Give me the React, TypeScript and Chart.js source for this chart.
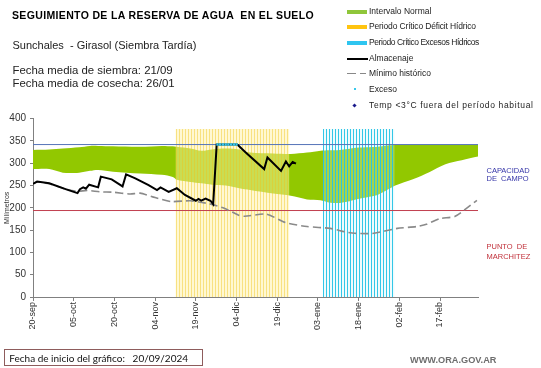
import React, { useEffect, useRef } from 'react';
import { Chart, registerables } from 'chart.js';
Chart.register(...registerables);

// ---- data ----
const tickDays = [0, 15, 30, 45, 60, 75, 90, 105, 120, 135, 150];
const tickLabels = ['20-sep', '05-oct', '20-oct', '04-nov', '19-nov', '04-dic', '19-dic', '03-ene', '18-ene', '02-feb', '17-feb'];
const axisEnd = 164;

const bandDays = [0, 6, 11, 17, 21, 24, 29.5, 39.5, 47.5, 51.5, 53, 58, 62, 66, 71, 76, 80, 88.5, 95, 101, 106, 109, 113, 116, 119, 124, 127, 130.5, 133.5, 140, 146, 152, 158, 164];
const bandUpper = [330, 331, 333, 336, 339, 339, 338, 337, 339, 338, 337, 333, 328, 331, 333, 331, 324, 322, 321, 324, 328, 329, 330, 332, 335, 336, 337, 340, 341, 341, 341, 341, 341, 341];
const bandLower = [287, 287, 279, 279, 283, 285, 281, 277, 274, 269, 263, 258, 255, 252, 250, 244, 240, 232, 227, 219, 217, 212, 211, 214, 219, 225, 229, 240, 250, 264, 280, 298, 307, 315];

const storageDays = [0, 1.5, 6, 12, 16.4, 17.3, 18.5, 19.5, 20.7, 24, 25, 29, 33, 34.3, 37.7, 42.6, 45.7, 47, 50, 53, 56, 60, 61, 62, 63.6, 65.4, 66.4, 67.7, 75.3, 78.4, 85.2, 86.4, 91.4, 93.2, 94.4, 95.7, 96.9];
const storageValues = [254, 259, 255, 242, 233, 242, 246, 243, 252, 246, 270, 264, 248, 275, 266, 251, 240, 246, 236, 244, 229, 216, 220, 216, 221, 216, 208, 342, 342, 324, 287, 313, 283, 304, 293, 303, 299];

const minDays = [0, 1.5, 6, 12, 16.4, 20, 24.7, 29.6, 35.8, 39.5, 45, 51, 58, 65, 70.5, 76, 78, 86, 93, 101, 109.5, 115, 118.5, 125, 134.3, 141.4, 145, 150, 155.6, 163.6];
const minValues = [254, 258, 254, 242, 237, 239, 236, 235, 231, 233, 223, 214, 216, 209, 199, 183, 181, 186, 167, 158, 154, 146, 143, 142.5, 154, 158, 163, 176, 181, 217];

const excesoDays = [68, 69, 70, 71, 72, 73, 74, 75];
const fieldCapacity = 342;
const wiltingPoint = 194;
const deficitPeriod = [52.5, 94.5];
const excessPeriod = [106.8, 133.3];
const periodTop = 377;

const GREEN = '#92C800';
const FONT = '"Liberation Sans", Arial, sans-serif';

function stripes(ctx: CanvasRenderingContext2D, gap: string, line: string) {
  const c = document.createElement('canvas');
  c.width = 3;
  c.height = 4;
  const g = c.getContext('2d')!;
  g.fillStyle = gap;
  g.fillRect(0, 0, 2, 4);
  g.fillStyle = line;
  g.fillRect(2, 0, 1, 4);
  return ctx.createPattern(c, 'repeat')!;
}

const pts = (xs: number[], ys: number[]) => xs.map((x, i) => ({ x, y: ys[i] }));

export default function App() {
  const ref = useRef<HTMLCanvasElement>(null);
  useEffect(() => {
    const canvas = ref.current!;
    const ctx = canvas.getContext('2d')!;
    const yellowPat = stripes(ctx, 'rgba(255,242,165,0.5)', 'rgba(245,214,80,0.72)');
    const cyanPat = stripes(ctx, 'rgba(205,242,250,0.3)', 'rgba(40,196,230,0.95)');
    const chart = new Chart(ctx, {
      type: 'line',
      data: {
        datasets: [
          {
            label: 'Exceso', type: 'scatter' as any, data: excesoDays.map((d) => ({ x: d, y: fieldCapacity })),
            pointStyle: 'rect', pointRadius: 1.7, backgroundColor: '#36C8EC', borderWidth: 0, order: 0,
          },
          {
            label: 'Almacenaje', data: pts(storageDays, storageValues), borderColor: '#000', borderWidth: 2,
            pointRadius: 0, fill: false, order: 1, tension: 0,
          },
          {
            label: 'Mínimo histórico', data: pts(minDays, minValues), borderColor: '#8a8a8a', borderWidth: 1.6,
            borderDash: [8, 4], pointRadius: 0, fill: false, order: 2, tension: 0.2,
          },
          {
            label: 'CC', data: [{ x: 0, y: fieldCapacity }, { x: axisEnd, y: fieldCapacity }], borderColor: '#5574B8',
            borderWidth: 1, pointRadius: 0, fill: false, order: 3,
          },
          {
            label: 'PMP', data: [{ x: 0, y: wiltingPoint }, { x: axisEnd, y: wiltingPoint }], borderColor: '#C24050',
            borderWidth: 1, pointRadius: 0, fill: false, order: 3,
          },
          {
            label: 'Periodo Crítico Déficit Hídrico', data: [{ x: deficitPeriod[0], y: periodTop }, { x: deficitPeriod[1], y: periodTop }],
            borderWidth: 0, pointRadius: 0, fill: 'origin', backgroundColor: yellowPat, order: 4,
          },
          {
            label: 'Periodo Crítico Excesos Hídricos', data: [{ x: excessPeriod[0], y: periodTop }, { x: excessPeriod[1], y: periodTop }],
            borderWidth: 0, pointRadius: 0, fill: 'origin', backgroundColor: cyanPat, order: 4,
          },
          {
            label: 'lower', data: pts(bandDays, bandLower), borderWidth: 0, pointRadius: 0, fill: false, order: 6,
            borderColor: 'rgba(0,0,0,0)', tension: 0.3,
          },
          {
            label: 'Intervalo Normal', data: pts(bandDays, bandUpper), borderWidth: 0, pointRadius: 0, fill: '-1', order: 5,
            backgroundColor: GREEN, borderColor: 'rgba(0,0,0,0)', tension: 0.3,
          },
        ] as any,
      },
      options: {
        responsive: false,
        animation: false,
        events: [],
        layout: { padding: { top: 118.7, right: 63, bottom: 0, left: 0 } },
        plugins: { legend: { display: false }, tooltip: { enabled: false } },
        scales: {
          x: {
            type: 'linear', min: 0, max: axisEnd,
            afterBuildTicks: (s: any) => { s.ticks = tickDays.map((v) => ({ value: v })); },
            afterFit: (s: any) => { s.height = 71; },
            ticks: {
              autoSkip: false, minRotation: 90, maxRotation: 90, padding: 1,
              font: { family: FONT, size: 9 }, color: '#333',
              callback: (v: any) => tickLabels[tickDays.indexOf(Number(v))] ?? '',
            },
            grid: { display: true, drawOnChartArea: false, drawTicks: true, tickLength: 4, color: '#808080' },
            border: { color: '#808080' },
          },
          y: {
            min: 0, max: 400,
            afterFit: (s: any) => { s.width = 33; },
            ticks: { stepSize: 50, padding: 4, font: { family: FONT, size: 10 }, color: '#333' },
            grid: { display: true, drawOnChartArea: false, drawTicks: true, tickLength: 3, color: '#808080' },
            border: { color: '#808080' },
            title: { display: true, text: 'Milímetros', font: { family: FONT, size: 7 }, color: '#333', padding: { top: 3, bottom: 0 } },
          },
        },
      } as any,
    });
    return () => chart.destroy();
  }, []);

  const txt = (extra: React.CSSProperties): React.CSSProperties => ({
    position: 'absolute', fontFamily: FONT, whiteSpace: 'pre', color: '#111', lineHeight: 1, ...extra,
  });

  const legendRows: { label: string; y: number; kind: string; ls: number }[] = [
    { label: 'Intervalo Normal', y: 11.7, kind: 'green', ls: 0 },
    { label: 'Periodo Crítico Déficit Hídrico', y: 26.7, kind: 'yellow', ls: -0.15 },
    { label: 'Periodo Crítico Excesos Hídricos', y: 42.7, kind: 'cyan', ls: -0.45 },
    { label: 'Almacenaje', y: 59, kind: 'black', ls: 0 },
    { label: 'Mínimo histórico', y: 73.3, kind: 'dash', ls: 0 },
    { label: 'Exceso', y: 89.3, kind: 'dot', ls: 0 },
    { label: 'Temp <3°C fuera del período habitual', y: 105.3, kind: 'diamond', ls: 0.65 },
  ];

  const swatch = (kind: string, y: number) => {
    const base: React.CSSProperties = { position: 'absolute' };
    switch (kind) {
      case 'green': return <div style={{ ...base, left: 347, top: y - 1.7, width: 20, height: 3.5, background: '#8FC63A' }} />;
      case 'yellow': return <div style={{ ...base, left: 347, top: y - 2, width: 20, height: 4, background: '#FFC410' }} />;
      case 'cyan': return <div style={{ ...base, left: 347, top: y - 2, width: 20, height: 4, background: '#2EC5F0' }} />;
      case 'black': return <div style={{ ...base, left: 347, top: y - 0.8, width: 21, height: 1.6, background: '#000' }} />;
      case 'dash': return (
        <>
          <div style={{ ...base, left: 347, top: y - 0.7, width: 9, height: 1.5, background: '#888' }} />
          <div style={{ ...base, left: 360, top: y - 0.7, width: 6, height: 1.5, background: '#888' }} />
        </>
      );
      case 'dot': return <div style={{ ...base, left: 354, top: y - 1, width: 2.2, height: 2.2, background: '#36C8EC' }} />;
      case 'diamond': return <div style={{ ...base, left: 353.2, top: y - 1.6, width: 3, height: 3, background: '#1A1A8C', transform: 'rotate(45deg)' }} />;
    }
    return null;
  };

  return (
    <div style={{ position: 'absolute', left: 0, top: 0, width: 541, height: 368, background: '#fff', overflow: 'hidden' }}>
      <canvas ref={ref} width={541} height={368} style={{ position: 'absolute', left: 0, top: 0, width: 541, height: 368 }} />
      <div style={txt({ left: 12, top: 10.2, fontSize: 10.5, letterSpacing: '0.35px', fontWeight: 'bold', color: '#000' })}>SEGUIMIENTO DE LA RESERVA DE AGUA  EN EL SUELO</div>
      <div style={txt({ left: 12.5, top: 40.3, fontSize: 11, color: '#222' })}>Sunchales  - Girasol (Siembra Tardía)</div>
      <div style={txt({ left: 12.5, top: 65.2, fontSize: 11.4, color: '#222' })}>Fecha media de siembra: 21/09</div>
      <div style={txt({ left: 12.5, top: 77.8, fontSize: 11.4, color: '#222' })}>Fecha media de cosecha: 26/01</div>

      {legendRows.map((r) => (
        <React.Fragment key={r.label}>
          {swatch(r.kind, r.y)}
          <div style={txt({ left: 369, top: r.y - 4.6, fontSize: 8.5, letterSpacing: `${r.ls}px`, color: '#222', lineHeight: '9px' })}>{r.label}</div>
        </React.Fragment>
      ))}

      <div style={txt({ left: 486.5, top: 166.8, fontSize: 7.5, color: '#3535A8', lineHeight: '8.6px' })}>{'CAPACIDAD\nDE  CAMPO'}</div>
      <div style={txt({ left: 486.5, top: 242.4, fontSize: 7.5, color: '#C0303A', lineHeight: '9.3px' })}>{'PUNTO  DE\nMARCHITEZ'}</div>

      <div style={{ position: 'absolute', left: 3.5, top: 348.5, width: 199, height: 17, border: '1px solid #8E5C5C', boxSizing: 'border-box' }} />
      <div style={txt({ left: 9.3, top: 352.8, fontSize: 10, fontFamily: 'Lato, "Open Sans", sans-serif', color: '#111' })}>Fecha de inicio del gráfico:   20/09/2024</div>
      <div style={txt({ left: 410, top: 356, fontSize: 9.2, fontWeight: 'bold', color: '#6E6E6E' })}>WWW.ORA.GOV.AR</div>
    </div>
  );
}
